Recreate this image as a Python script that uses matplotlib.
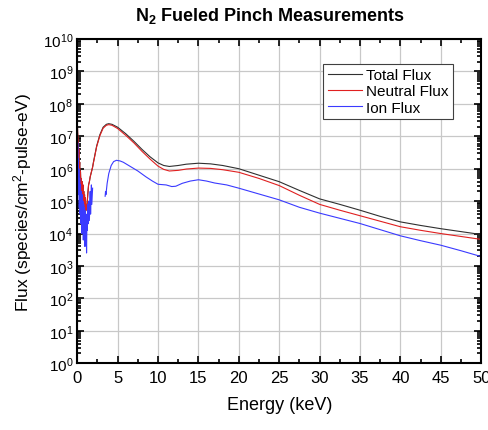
import numpy as np
import matplotlib
matplotlib.use("Agg")
import matplotlib.pyplot as plt
from matplotlib.ticker import LogLocator, MultipleLocator, NullFormatter

plt.rcParams['font.family'] = ['Liberation Sans', 'DejaVu Sans']
plt.rcParams['mathtext.fontset'] = 'custom'
plt.rcParams['mathtext.rm'] = 'Liberation Sans'
plt.rcParams['mathtext.it'] = 'Liberation Sans:italic'
plt.rcParams['mathtext.bf'] = 'Liberation Sans:bold'
plt.rcParams['mathtext.default'] = 'regular'

# ---- data (energy in keV, log10 flux) ----
low_E = [0.0, 0.05, 0.1, 0.15, 0.2, 0.25, 0.3, 0.35, 0.4, 0.45, 0.5, 0.55, 0.6, 0.65,
         0.7, 0.75, 0.8, 0.85, 0.9, 0.95, 1.0, 1.05, 1.1, 1.15, 1.2, 1.3, 1.4, 1.5,
         1.6, 1.7, 1.8, 1.9]
low_neutral_log = [7.5, 7.1, 6.9, 6.3, 6.6, 6.0, 6.2, 5.8, 5.9, 5.5, 5.7, 5.3, 5.6, 5.2,
                   5.5, 5.0, 5.3, 4.9, 5.2, 4.8, 5.1, 4.7, 4.9, 4.75, 4.85, 5.2, 5.5, 5.6,
                   5.75, 5.85, 5.95, 6.05]

main_E = [2.0, 2.4, 2.8, 3.2, 3.6, 3.9, 4.3, 5.0, 6.0, 7.0, 8.0, 9.0, 10.0, 10.7, 11.4,
          12.5, 13.5, 15.0, 16.5, 18.0, 20.0, 22.5, 25.0, 27.5, 30.0, 32.5, 35.0, 37.5,
          40.0, 42.5, 45.0, 47.5, 50.0]
total_log = [6.2, 6.7, 7.05, 7.28, 7.37, 7.39, 7.37, 7.28, 7.08, 6.85, 6.6, 6.37, 6.18,
             6.1, 6.07, 6.1, 6.14, 6.17, 6.15, 6.1, 6.0, 5.8, 5.6, 5.33, 5.07, 4.9, 4.72,
             4.53, 4.36, 4.25, 4.15, 4.06, 3.97]
neutral_log = [6.18, 6.68, 7.02, 7.25, 7.34, 7.36, 7.34, 7.24, 7.03, 6.8, 6.54, 6.3, 6.08,
               5.98, 5.93, 5.95, 5.99, 6.02, 6.01, 5.97, 5.89, 5.7, 5.48, 5.18, 4.9, 4.72,
               4.55, 4.38, 4.21, 4.1, 4.0, 3.91, 3.82]

ion_low_E = [0.0, 0.03, 0.06, 0.1, 0.13, 0.17, 0.2, 0.25, 0.3, 0.35, 0.4, 0.45, 0.5, 0.55,
             0.6, 0.65, 0.7, 0.75, 0.8, 0.85, 0.9, 0.95, 1.0, 1.05, 1.1, 1.15, 1.2, 1.25,
             1.3, 1.35, 1.4, 1.5, 1.6, 1.65, 1.75, 1.8, 1.9]
ion_low_log = [7.2, 6.0, 6.8, 5.5, 6.3, 5.2, 6.0, 4.8, 5.7, 4.6, 5.5, 4.3, 5.3, 4.0,
               5.2, 4.5, 5.0, 3.8, 4.9, 4.2, 4.8, 3.6, 4.7, 4.0, 4.6, 3.4, 4.5, 4.1,
               4.9, 4.3, 5.0, 4.4, 5.3, 4.6, 5.5, 4.9, 5.4]
ion_E = [3.45, 3.5, 3.55, 3.7, 3.9, 4.2, 4.5, 4.85, 5.3, 5.7, 6.5, 7.5, 8.5, 9.3, 10.0,
         11.0, 11.7, 12.2, 13.0, 14.0, 15.0, 16.0, 17.0, 18.5, 20.0, 22.5, 25.0, 27.5,
         30.0, 32.5, 35.0, 37.5, 40.0, 42.5, 45.0, 47.5, 50.0]
ion_log = [5.15, 5.3, 5.2, 5.55, 5.85, 6.1, 6.22, 6.26, 6.24, 6.2, 6.08, 5.93, 5.75, 5.62,
           5.52, 5.5, 5.45, 5.46, 5.55, 5.62, 5.66, 5.62, 5.56, 5.5, 5.4, 5.22, 5.04, 4.81,
           4.63, 4.47, 4.31, 4.12, 3.93, 3.78, 3.64, 3.47, 3.29]

labels = ["Total Flux", "Neutral Flux", "Ion Flux"]
colors = ["#303030", "#e02020", "#3a3aff"]

E_tn = np.array(low_E + main_E)
total = 10 ** np.array(low_neutral_log + total_log)
neutral = 10 ** np.array(low_neutral_log + neutral_log)
E_ion = np.array(ion_low_E + [np.nan] + ion_E)
ion = 10 ** np.array(ion_low_log + [np.nan] + ion_log)

fig = plt.figure(figsize=(4.89, 4.31), dpi=100)
ax = fig.add_axes([0.158, 0.155, 0.826, 0.752])

ax.plot(E_tn, total, color=colors[0], lw=0.8, label=labels[0])
ax.plot(E_tn, neutral, color=colors[1], lw=0.8, label=labels[1])
ax.plot(E_ion, ion, color=colors[2], lw=0.8, label=labels[2])

ax.set_yscale('log')
ax.set_xlim(0, 50)
ax.set_ylim(1, 1e10)
ax.xaxis.set_major_locator(MultipleLocator(5))
ax.xaxis.set_minor_locator(MultipleLocator(2.5))
ax.yaxis.set_major_locator(LogLocator(base=10, numticks=20))
ax.yaxis.set_minor_locator(LogLocator(base=10, subs=np.arange(2, 10), numticks=20))
ax.yaxis.set_minor_formatter(NullFormatter())
ax.grid(True, which='major', color='#c8c8c8', lw=0.9)
ax.set_axisbelow(True)
ax.tick_params(which='both', direction='in', top=True, right=True, width=1.2)
ax.tick_params(which='major', length=5)
ax.tick_params(which='minor', length=3)
ax.tick_params(axis='x', labelsize=12, pad=5)
ax.tick_params(axis='y', labelsize=11, pad=3)
for s in ax.spines.values():
    s.set_linewidth(1.5)

ax.set_xlabel("Energy (keV)", fontsize=13, labelpad=8)
ax.set_ylabel("Flux (species/cm$^2$-pulse-eV)", fontsize=12.5, labelpad=6)
fig.text(0.553, 0.963, r"$\mathbf{N_2}$ Fueled Pinch Measurements",
         ha='center', va='center', fontsize=13, fontweight='bold')

leg = ax.legend(loc='upper right', bbox_to_anchor=(0.95, 0.948), fontsize=11,
                frameon=True, fancybox=False, edgecolor='#404040', framealpha=1,
                handlelength=2.2, borderpad=0.3, labelspacing=0.15, handletextpad=0.3)
leg.get_frame().set_linewidth(0.8)

fig.savefig("out.png", dpi=100)
